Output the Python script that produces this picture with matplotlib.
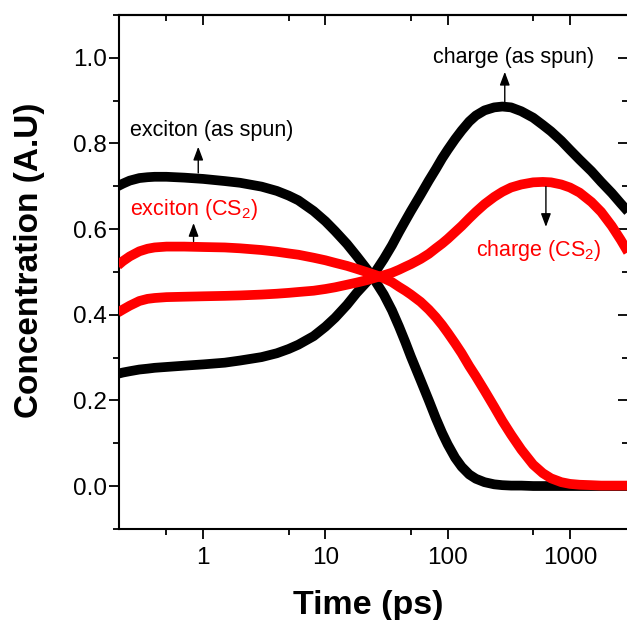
import matplotlib
matplotlib.use("Agg")
import matplotlib.pyplot as plt
from matplotlib.ticker import FixedLocator, FixedFormatter, NullFormatter

plt.rcParams['font.family'] = ['Liberation Sans', 'DejaVu Sans']
plt.rcParams['mathtext.fontset'] = 'custom'
plt.rcParams['mathtext.rm'] = 'Liberation Sans'
plt.rcParams['mathtext.it'] = 'Liberation Sans:italic'
plt.rcParams['mathtext.bf'] = 'Liberation Sans:bold'

# time axis (ps)
time_ps = [0.2, 0.22, 0.25, 0.3, 0.35, 0.4, 0.5, 0.7, 1, 1.5, 2, 3, 4, 5, 6, 8, 10, 12,
           15, 18, 22, 26, 30, 35, 40, 45, 50, 60, 70, 80, 90, 100, 115, 130, 150,
           170, 200, 240, 280, 330, 400, 500, 600, 700, 850, 1000, 1200, 1500, 1800,
           2200, 2600, 3000]

exciton_as_spun = [0.700, 0.706, 0.713, 0.719, 0.721, 0.722, 0.722, 0.720, 0.717, 0.712,
                   0.708, 0.699, 0.689, 0.678, 0.667, 0.642, 0.618, 0.595,
                   0.565, 0.537, 0.505, 0.475, 0.447, 0.410, 0.372, 0.336, 0.302, 0.247,
                   0.200, 0.158, 0.124, 0.097, 0.066, 0.045, 0.027,
                   0.017, 0.009, 0.004, 0.002, 0.001, 0.001, 0.0, 0.0, 0.0, 0.0, 0.0,
                   0.0, 0.0, 0.0, 0.0, 0.0, 0.0]

charge_as_spun = [0.262, 0.265, 0.268, 0.272, 0.274, 0.276, 0.278, 0.281, 0.284, 0.288,
                  0.293, 0.301, 0.310, 0.320, 0.330, 0.350, 0.372, 0.393,
                  0.423, 0.451, 0.478, 0.503, 0.530, 0.562, 0.593, 0.619, 0.642, 0.680,
                  0.713, 0.740, 0.765, 0.785, 0.810, 0.830, 0.851,
                  0.865, 0.877, 0.884, 0.886, 0.884, 0.875, 0.860, 0.843, 0.828, 0.806,
                  0.785, 0.762, 0.735, 0.710, 0.684, 0.660, 0.640]

exciton_cs2 = [0.515, 0.525, 0.536, 0.548, 0.554, 0.557, 0.559, 0.559, 0.558, 0.557,
               0.555, 0.551, 0.547, 0.543, 0.540, 0.533, 0.527, 0.521,
               0.514, 0.507, 0.499, 0.492, 0.485, 0.476, 0.465, 0.456, 0.447, 0.430,
               0.412, 0.394, 0.376, 0.358, 0.333, 0.310, 0.280,
               0.256, 0.223, 0.185, 0.152, 0.120, 0.085, 0.050, 0.030, 0.018, 0.009,
               0.005, 0.003, 0.002, 0.001, 0.001, 0.001, 0.001]

charge_cs2 = [0.405, 0.412, 0.421, 0.432, 0.437, 0.439, 0.441, 0.442, 0.443, 0.444,
              0.445, 0.447, 0.449, 0.451, 0.453, 0.456, 0.460, 0.464,
              0.470, 0.475, 0.481, 0.487, 0.492, 0.498, 0.505, 0.512, 0.518, 0.530,
              0.542, 0.555, 0.566, 0.577, 0.593, 0.607, 0.625,
              0.640, 0.658, 0.675, 0.687, 0.697, 0.704, 0.709, 0.710, 0.709, 0.704,
              0.697, 0.685, 0.663, 0.640, 0.607, 0.575, 0.545]

x_major = [1, 10, 100, 1000]
x_major_labels = ["1", "10", "100", "1000"]
x_minor = [0.5, 5, 50, 500]
y_major = [0.0, 0.2, 0.4, 0.6, 0.8, 1.0]
y_minor = [-0.1, 0.1, 0.3, 0.5, 0.7, 0.9, 1.1]

fig = plt.figure(figsize=(6.27, 6.20), dpi=100)
ax = fig.add_axes([0.190, 0.147, 0.812, 0.829])

lw = 7.0
kw = dict(lw=lw, solid_capstyle='butt', solid_joinstyle='round')
ax.plot(time_ps, exciton_as_spun, color='black', zorder=2, **kw)
ax.plot(time_ps, charge_as_spun, color='black', zorder=2, **kw)
ax.plot(time_ps, exciton_cs2, color='#ff0000', zorder=3, **kw)
ax.plot(time_ps, charge_cs2, color='#ff0000', zorder=3, **kw)

ax.set_xscale('log')
ax.set_xlim(0.205, 3000)
ax.set_ylim(-0.1, 1.1)

ax.xaxis.set_major_locator(FixedLocator(x_major))
ax.xaxis.set_major_formatter(FixedFormatter(x_major_labels))
ax.xaxis.set_minor_locator(FixedLocator(x_minor))
ax.xaxis.set_minor_formatter(NullFormatter())
ax.yaxis.set_major_locator(FixedLocator(y_major))
ax.set_yticklabels([f"{v:.1f}" for v in y_major])
ax.yaxis.set_minor_locator(FixedLocator(y_minor))

for s in ax.spines.values():
    s.set_linewidth(1.5)

ax.tick_params(axis='both', which='major', direction='out', length=7, width=1.3,
               labelsize=17.5, colors='black')
ax.tick_params(axis='both', which='minor', direction='out', length=4, width=1.3)
ax.tick_params(axis='y', which='major', pad=2)
ax.tick_params(axis='x', which='major', pad=6)

# mirrored inward ticks on top and right
secx = ax.secondary_xaxis('top')
secx.xaxis.set_major_locator(FixedLocator(x_major))
secx.xaxis.set_minor_locator(FixedLocator(x_minor))
secx.tick_params(which='major', direction='in', length=7, width=1.3, labeltop=False)
secx.tick_params(which='minor', direction='in', length=4, width=1.3, labeltop=False)
secx.spines['top'].set_linewidth(1.5)

secy = ax.secondary_yaxis('right')
secy.yaxis.set_major_locator(FixedLocator(y_major))
secy.yaxis.set_minor_locator(FixedLocator(y_minor))
secy.tick_params(which='major', direction='in', length=7, width=1.3, labelright=False)
secy.tick_params(which='minor', direction='in', length=4, width=1.3, labelright=False)
secy.spines['right'].set_linewidth(1.5)

ax.set_xlabel("Time (ps)", fontsize=24.5, fontweight='bold')
ax.set_ylabel("Concentration (A.U)", fontsize=24, fontweight='bold')
ax.xaxis.set_label_coords(0.490, -0.118)
ax.yaxis.set_label_coords(-0.145, 0.523)

# annotations
fs = 15.5
ax.text(0.252, 0.829, "exciton (as spun)", color='black', fontsize=fs, va='center', ha='left')
ax.text(0.252, 0.645, "exciton (CS$_2$)", color='#ff0000', fontsize=fs, va='center', ha='left')
ax.text(75.4, 1.0, "charge (as spun)", color='black', fontsize=fs, va='center', ha='left')
ax.text(170, 0.551, "charge (CS$_2$)", color='#ff0000', fontsize=fs, va='center', ha='left')

ap = dict(arrowstyle='-|>,head_length=0.8,head_width=0.3', color='black', lw=1.0,
          shrinkA=0, shrinkB=0)
ax.annotate("", xy=(0.91, 0.792), xytext=(0.91, 0.731), arrowprops=ap)
ax.annotate("", xy=(0.833, 0.614), xytext=(0.833, 0.571), arrowprops=ap)
ax.annotate("", xy=(293, 0.967), xytext=(293, 0.897), arrowprops=ap)
ax.annotate("", xy=(636, 0.605), xytext=(636, 0.699), arrowprops=ap)

fig.savefig("out.png", dpi=100)
